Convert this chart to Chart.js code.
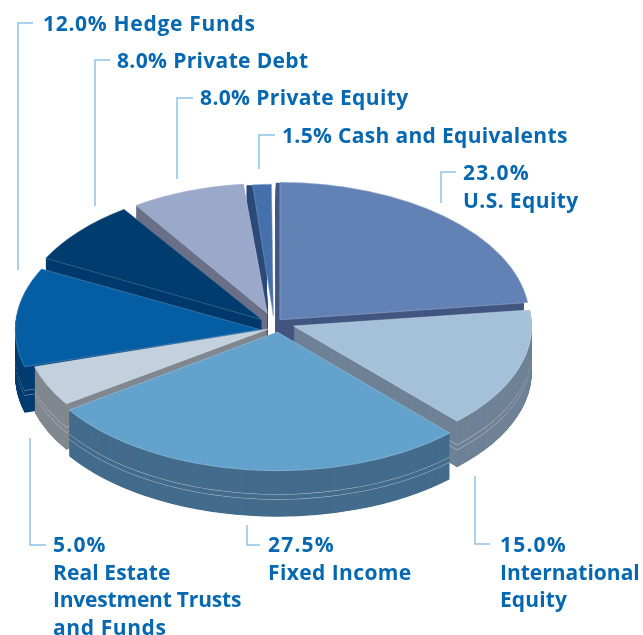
<!DOCTYPE html>
<html><head><meta charset="utf-8">
<style>html,body{margin:0;padding:0;background:#fff}canvas{display:block}</style>
<script src="https://cdn.jsdelivr.net/npm/chart.js@4"></script>
</head><body>
<canvas id="c" width="643" height="635"></canvas>
<script>
const categories=['U.S. Equity','International Equity','Fixed Income','Real Estate Investment Trusts and Funds','Hedge Funds','Private Debt','Private Equity','Cash and Equivalents'];
const allocation=[23,15,27.5,5,12,8,8,1.5];
const topColors=['#6282b6','#a5c1da','#64a2ce','#c3d1de','#055da4','#003c6e','#9aa8c9','#4471ab'];
const wallColors=['#435680','#6f8296','#446c8c','#80888f','#003c70','#003a6c','#6a7088','#2b4a7a'];
const explode=[8.6,24.7,15,7,16,16.3,21.3,13.7];
const sliceScale=[1.041,.973,1.049,.992,.9995,.98,.94,.951];
const nudgeX=[0,-3,5,0,2,0,0,0];
const nudgeY=[0,-2,0,4,7,2,0,0];
const wallShift=[-4,0,0,0,0,0,0,-6];
const drawOrder=[7,6,5,0,4,1,3,2];
const DEPTH=46,SQUASH=.55,RIM=[24,29];
const labelLines=[
 {i:4,one:true,x:43,y:31,track:.7,path:[[33,23],[18,23],[18,270]]},
 {i:5,one:true,x:117,y:68,track:.35,path:[[110,60],[95,60],[95,206]]},
 {i:6,one:true,x:200,y:105,track:.37,path:[[193,98],[177,98],[177,179]]},
 {i:7,one:true,x:282,y:143,track:.33,path:[[275,135],[259,135],[259,169]]},
 {i:0,x:463,y:180,lines:['U.S. Equity'],track:[.4],path:[[456,172],[441,172],[441,203]]},
 {i:1,x:500,y:552,lines:['International','Equity'],track:[0,.1],path:[[475,476],[475,544],[490,544]]},
 {i:2,x:268,y:552,lines:['Fixed Income'],track:[.4],path:[[247,525],[247,545],[260,545]]},
 {i:3,x:53,y:552,lines:['Real Estate','Investment Trusts','and Funds'],track:[.1,-.2,.6],path:[[30,438],[30,545],[46,545]]}
];
function lighten(hex,a){const n=parseInt(hex.slice(1),16);const m=v=>Math.round(v+(255-v)*a);
 return `rgb(${m(n>>16&255)},${m(n>>8&255)},${m(n&255)})`}
function paint(ctx,arc,i,dx,dy,fill,stroke){
 const saved=arc.options;
 arc.options={backgroundColor:fill,borderColor:stroke||fill,borderWidth:stroke?.7:0,borderAlign:'center',borderJoinStyle:'round',
  borderRadius:0,spacing:0,offset:saved.offset,circular:true,borderDash:[],borderDashOffset:0};
 ctx.save();
 ctx.translate(arc.x+nudgeX[i]+dx,arc.y+nudgeY[i]+dy);ctx.scale(sliceScale[i],SQUASH*sliceScale[i]);ctx.translate(-arc.x,-arc.y);
 arc.draw(ctx);
 ctx.restore();
 arc.options=saved;
}
const pie3d={id:'pie3d',
 beforeDatasetsDraw(chart){
  const ctx=chart.ctx,arcs=chart.getDatasetMeta(0).data;
  drawOrder.forEach(i=>{
   const arc=arcs[i];
   for(let d=DEPTH;d>0;d-=.5){
    const line=RIM.includes(d);
    paint(ctx,arc,i,wallShift[i],d,line?lighten(wallColors[i],.6):wallColors[i]);
   }
   paint(ctx,arc,i,0,0,topColors[i],lighten(topColors[i],.35));
  });
  return false;
 },
 afterDraw(chart){
  const ctx=chart.ctx;ctx.save();
  ctx.strokeStyle='#8fc3e8';ctx.lineWidth=1.5;
  ctx.fillStyle='#0768b2';ctx.font='700 21px "Open Sans"';ctx.textBaseline='alphabetic';
  labelLines.forEach(l=>{
   ctx.beginPath();l.path.forEach((p,k)=>k?ctx.lineTo(p[0],p[1]):ctx.moveTo(p[0],p[1]));ctx.stroke();
   const pct=allocation[l.i].toFixed(1)+'%';
   if(l.one){ctx.letterSpacing=l.track+'px';ctx.fillText(pct+' '+categories[l.i],l.x,l.y)}
   else{
    ctx.letterSpacing='1.2px';ctx.fillText(pct,l.x,l.y);
    l.lines.forEach((t,k)=>{ctx.letterSpacing=l.track[k]+'px';ctx.fillText(t,l.x,l.y+27.5*(k+1))});
   }
  });
  ctx.restore();
 }
};
new Chart(document.getElementById('c'),{
 type:'pie',plugins:[pie3d],
 data:{labels:categories,datasets:[{data:allocation,backgroundColor:topColors,radius:240,offset:explode.map(v=>v*4),borderWidth:0}]},
 options:{responsive:false,animation:false,layout:{padding:{right:95,top:12}},
  plugins:{legend:{display:false},tooltip:{enabled:false}}}
});
</script></body></html>
